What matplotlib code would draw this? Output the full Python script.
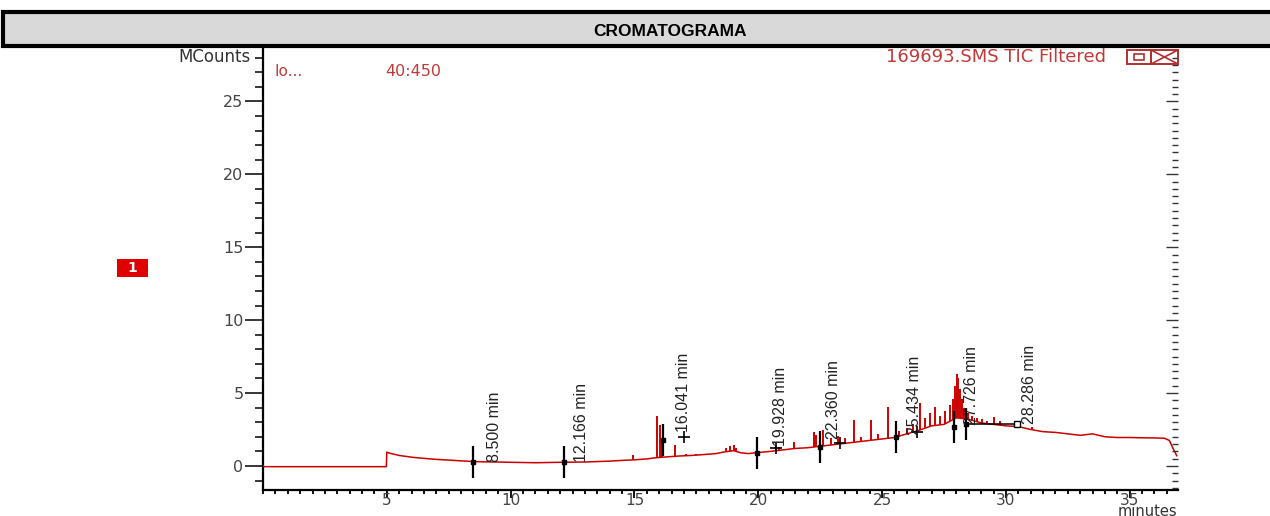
"""
plot.py

Chromatogram (TIC trace) redrawn from an instrument screenshot.
"""

import matplotlib
matplotlib.use("Agg")
import matplotlib.pyplot as plt
from matplotlib.patches import Rectangle
from matplotlib.lines import Line2D
from matplotlib.ticker import MultipleLocator, FixedLocator
import numpy as np

W, H = 1270, 516

RED = "#cc0000"
TEXT_RED = "#c03a3a"
GRAY = "#444444"
NARROW = ["Liberation Sans Narrow", "Liberation Sans", "DejaVu Sans"]

# --- baseline of the TIC trace (minutes, MCounts)
trace_t = [0.0, 4.98, 5.0, 5.1, 5.5, 6.0, 6.5, 7.0, 7.5, 8.0, 8.5, 9.0, 9.5, 10.0,
           11.0, 12.0, 13.0, 13.5, 14.0, 14.5, 15.0, 15.5, 15.8, 16.3, 16.8, 17.3,
           17.8, 18.3, 18.6, 19.0, 19.3, 19.6, 20.0, 20.5, 21.0, 21.5, 22.0, 22.5,
           23.0, 23.5, 24.0, 24.5, 25.0, 25.5, 26.0, 26.5, 27.0, 27.5, 28.0, 28.5,
           29.0, 29.5, 30.0, 30.5, 31.0, 31.5, 32.0, 32.5, 33.0, 33.5, 34.0, 34.5,
           35.0, 35.5, 36.0, 36.4, 36.6, 36.75, 36.9]
trace_v = [-0.05, -0.05, 0.95, 0.88, 0.72, 0.60, 0.52, 0.45, 0.40, 0.35, 0.30, 0.28,
           0.27, 0.25, 0.22, 0.25, 0.27, 0.30, 0.33, 0.38, 0.42, 0.48, 0.55, 0.62,
           0.68, 0.72, 0.78, 0.85, 0.95, 1.05, 0.90, 0.85, 0.92, 1.00, 1.10, 1.20,
           1.25, 1.35, 1.45, 1.55, 1.65, 1.75, 1.85, 1.95, 2.20, 2.45, 2.75, 2.85,
           3.30, 3.20, 2.95, 2.85, 2.75, 2.70, 2.50, 2.35, 2.30, 2.20, 2.10, 2.20,
           2.00, 1.95, 1.95, 1.93, 1.92, 1.90, 1.75, 1.20, 0.70]

# --- individual spikes on the trace
spike_rt = [14.95, 15.92, 16.05, 16.12, 16.62, 17.10, 17.50, 17.90, 18.70, 18.85,
            19.00, 19.10, 20.70, 20.85, 21.45, 22.25, 22.35, 22.60, 22.95, 23.20,
            23.50, 23.85, 24.15, 24.55, 24.85, 25.25, 25.70, 26.00, 26.25, 26.55,
            26.75, 26.95, 27.15, 27.35, 27.55, 27.75, 27.85, 27.95, 28.02, 28.08,
            28.15, 28.22, 28.30, 28.45, 28.65, 28.85, 29.05, 29.25, 29.50, 29.75,
            30.55, 31.05]
spike_top = [0.75, 3.40, 2.80, 1.90, 1.45, 0.85, 0.85, 0.85, 1.20, 1.35,
             1.45, 1.25, 1.40, 1.30, 1.65, 2.30, 2.10, 2.45, 1.90, 2.05,
             1.90, 3.15, 2.00, 3.15, 2.20, 4.05, 2.40, 2.60, 2.90, 4.30,
             3.30, 3.60, 4.05, 3.40, 3.75, 4.20, 4.60, 5.50, 6.30, 6.00,
             5.30, 4.60, 4.00, 3.60, 3.40, 3.30, 3.20, 3.10, 3.35, 3.05,
             2.95, 2.70]
spike_base = [0.42, 0.55, 0.60, 0.61, 0.67, 0.72, 0.75, 0.78, 0.97, 1.00,
              1.05, 1.00, 1.02, 1.06, 1.20, 1.27, 1.30, 1.37, 1.44, 1.49,
              1.55, 1.62, 1.68, 1.75, 1.81, 1.90, 2.05, 2.20, 2.32, 2.48,
              2.60, 2.72, 2.79, 2.83, 2.90, 3.10, 3.20, 3.28, 3.30, 3.29,
              3.27, 3.25, 3.22, 3.15, 3.05, 2.99, 2.93, 2.89, 2.85, 2.80,
              2.69, 2.50]

# --- integrated peak markers and their labels
peak_rt = [8.50, 12.17, 16.15, 19.96, 22.50, 25.55, 27.90, 28.40]
peak_y = [0.30, 0.30, 1.80, 0.90, 1.30, 2.00, 2.70, 2.90]
peak_labels = ["8.500 min", "12.166 min", "16.041 min", "19.928 min",
               "22.360 min", "25.434 min", "27.726 min", "28.286 min"]
label_rt = [9.35, 12.85, 17.00, 20.90, 23.05, 26.30, 28.60, 30.95]
label_y = [0.30, 0.30, 2.30, 1.40, 1.85, 2.10, 2.80, 2.90]
plus_rt = [17.00, 20.70, 23.30, 26.40]
plus_y = [2.00, 1.20, 1.60, 2.30]


def fx(x):
    return x / W


def fy(y):
    return 1 - y / H


fig = plt.figure(figsize=(W / 100, H / 100), dpi=100)

# header band
fig.add_artist(Rectangle((fx(3), fy(46)), fx(1275) - fx(3), fy(12) - fy(46),
                         transform=fig.transFigure, facecolor="#d9d9d9",
                         edgecolor="black", lw=3.0, clip_on=False))
fig.text(fx(670), fy(31), "CROMATOGRAMA", ha="center", va="center",
         fontsize=12.5, fontweight="bold", family=["Liberation Sans", "DejaVu Sans"])

ax = fig.add_axes([fx(263), fy(490), fx(1178) - fx(263), fy(46) - fy(490)])
ax.set_xlim(0, 36.95)
ax.set_ylim(-1.65, 28.8)

ax.plot(trace_t, trace_v, color=RED, lw=1.1, zorder=3)
ax.vlines(spike_rt, spike_base, spike_top, color=RED, lw=1.4, zorder=3)

peak_rt_a = np.array(peak_rt)
peak_y_a = np.array(peak_y)
ax.vlines(peak_rt_a, peak_y_a - 1.1, peak_y_a + 1.1, color="black", lw=1.6, zorder=5)
ax.plot(peak_rt_a, peak_y_a, "s", color="black", ms=3.5, zorder=6)
ax.plot(plus_rt, plus_y, "+", color="black", ms=8, mew=1.2, zorder=6)
ax.plot([peak_rt[-1], label_rt[-1] - 0.5], [peak_y[-1], peak_y[-1]], color="black", lw=1.1, zorder=5)
ax.plot(label_rt[-1] - 0.5, peak_y[-1], "s", mfc="white", mec="black", ms=4, zorder=6)

for t, y, s in zip(label_rt, label_y, peak_labels):
    ax.text(t, y, s, rotation=90, ha="center", va="bottom", fontsize=11.5,
            color="#222222", family=NARROW, zorder=7)

# axes styling
for side in ("top", "right"):
    ax.spines[side].set_visible(False)
ax.spines["left"].set_linewidth(1.6)
ax.spines["bottom"].set_linewidth(1.6)

ax.xaxis.set_major_locator(FixedLocator([5, 10, 15, 20, 25, 30, 35]))
ax.xaxis.set_minor_locator(MultipleLocator(0.5))
ax.yaxis.set_major_locator(FixedLocator([0, 5, 10, 15, 20, 25]))
ax.yaxis.set_minor_locator(MultipleLocator(1))
ax.tick_params(axis="x", which="major", length=6, width=1.3, pad=-4,
               labelsize=11, labelcolor=GRAY)
ax.tick_params(axis="x", which="minor", length=3, width=1.3)
ax.tick_params(axis="y", which="major", length=13, width=1.1, pad=1,
               labelsize=11.5, labelcolor=GRAY)
ax.tick_params(axis="y", which="minor", length=6, width=1.1)

ax2 = ax.twinx()
ax2.set_ylim(ax.get_ylim())
for side in ax2.spines:
    ax2.spines[side].set_visible(False)
ax2.yaxis.set_major_locator(FixedLocator([0, 5, 10, 15, 20, 25]))
ax2.yaxis.set_minor_locator(MultipleLocator(0.5))
ax2.tick_params(axis="y", which="major", direction="in", length=9, width=1.0,
                labelright=False, color="#333333")
ax2.tick_params(axis="y", which="minor", direction="in", length=4, width=1.0,
                color="#333333")

# texts around the plot
fig.text(fx(251), fy(57), "MCounts", ha="right", va="center", fontsize=12, color="#333333")
fig.text(fx(1177), fy(515.5), "minutes", ha="right", va="baseline", fontsize=10.5, color="#333333")
fig.text(fx(274), fy(72), "Io...", ha="left", va="center", fontsize=11, color=TEXT_RED)
fig.text(fx(385), fy(72), "40:450", ha="left", va="center", fontsize=11.5, color=TEXT_RED)
fig.text(fx(1106), fy(57), "169693.SMS TIC Filtered", ha="right", va="center",
         fontsize=13, color=TEXT_RED)

# window icons
fig.add_artist(Rectangle((fx(1127), fy(64)), fx(1151) - fx(1127), fy(50) - fy(64),
                         transform=fig.transFigure, fill=False, edgecolor="#b03030", lw=1.4))
fig.add_artist(Rectangle((fx(1134), fy(60)), fx(1144) - fx(1134), fy(54) - fy(60),
                         transform=fig.transFigure, fill=False, edgecolor="#b03030", lw=1.2))
fig.add_artist(Rectangle((fx(1151), fy(64)), fx(1178) - fx(1151), fy(50) - fy(64),
                         transform=fig.transFigure, fill=False, edgecolor="#b03030", lw=1.4))
fig.add_artist(Line2D([fx(1151), fx(1178)], [fy(50), fy(64)], transform=fig.transFigure,
                      color="#b03030", lw=1.2))
fig.add_artist(Line2D([fx(1151), fx(1178)], [fy(64), fy(50)], transform=fig.transFigure,
                      color="#b03030", lw=1.2))

# trace number badge
fig.add_artist(Rectangle((fx(117), fy(277)), fx(148) - fx(117), fy(259) - fy(277),
                         transform=fig.transFigure, facecolor="#e00000", edgecolor="none"))
fig.text(fx(132), fy(268), "1", ha="center", va="center", fontsize=10,
         fontweight="bold", color="white")

fig.savefig("out.png", dpi=100)
